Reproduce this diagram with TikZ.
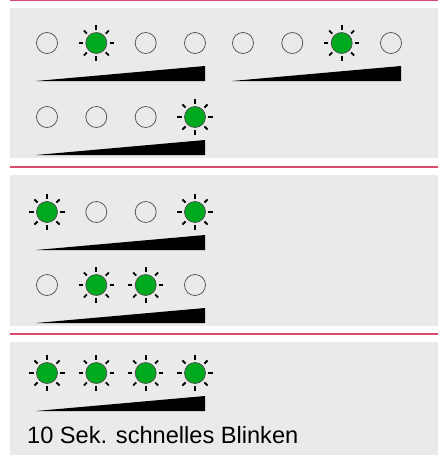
\documentclass[tikz,border=0pt]{standalone}
\usepackage{fontspec}
\setmainfont{Liberation Sans}
\definecolor{panelgray}{HTML}{EAEAEA}
\definecolor{sepcol}{HTML}{D84A6E}
\definecolor{ledgreen}{HTML}{00AA1E}
\tikzset{
  ledoff/.style={circle, draw=black!70, line width=0.7pt, minimum size=21pt, inner sep=0pt},
  ledon/.style={circle, draw=black!70, fill=ledgreen, line width=0.7pt, minimum size=21pt, inner sep=0pt},
  ray/.style={line width=1.8pt, black},
  panel/.style={fill=panelgray, draw=none},
  sepline/.style={draw=sepcol, line width=2pt},
  wedgefill/.style={fill=black},
  caption/.style={anchor=base west, inner sep=0pt, font=\fontsize{23.6}{28}\selectfont},
}
\begin{document}
\begin{tikzpicture}[x=1pt,y=-1pt]
\useasboundingbox (0,0) rectangle (438,458);
% panels
\fill[panel] (10,8) rectangle (438,158);
\fill[panel] (10,175) rectangle (438,326);
\fill[panel] (10,342) rectangle (438,455);
% separator lines
\draw[sepline, line width=1.5pt] (10,0.6) -- (438,0.6);
\draw[sepline] (10,166.5) -- (438,166.5);
\draw[sepline] (10,334) -- (438,334);
% LEDs
\foreach \n/\x/\y/\s in {
  a1/47/43/ledoff, a2/96.3/43/ledon, a3/145.7/43/ledoff, a4/195/43/ledoff,
  b1/243/43/ledoff, b2/292.3/43/ledoff, b3/341.7/43/ledon, b4/391/43/ledoff,
  c1/47/117/ledoff, c2/96.3/117/ledoff, c3/145.7/117/ledoff, c4/195/117/ledon,
  d1/47/212/ledon, d2/96.3/212/ledoff, d3/145.7/212/ledoff, d4/195/212/ledon,
  e1/47/285/ledoff, e2/96.3/285/ledon, e3/145.7/285/ledon, e4/195/285/ledoff,
  f1/47/373/ledon, f2/96.3/373/ledon, f3/145.7/373/ledon, f4/195/373/ledon}
  \node[\s] (\n) at (\x,\y) {};
% rays around lit LEDs
\foreach \n in {a2,b3,c4,d1,d4,e2,e3,f1,f2,f3,f4}
  \foreach \a in {0,45,...,315}
    \draw[ray] (\n.center) ++(\a:13.3) -- ++(\a:4.4);
% wedges
\foreach \x/\y in {36/43, 36/117, 36/212, 36/285, 36/373, 232/43}
  \fill[wedgefill] (\x,\y+38) -- (\x+169,\y+23) -- (\x+169,\y+38) -- cycle;
% caption
\node[caption] (cap) at (27,443) {10 Sek. schnelles Blinken};
\end{tikzpicture}
\end{document}
